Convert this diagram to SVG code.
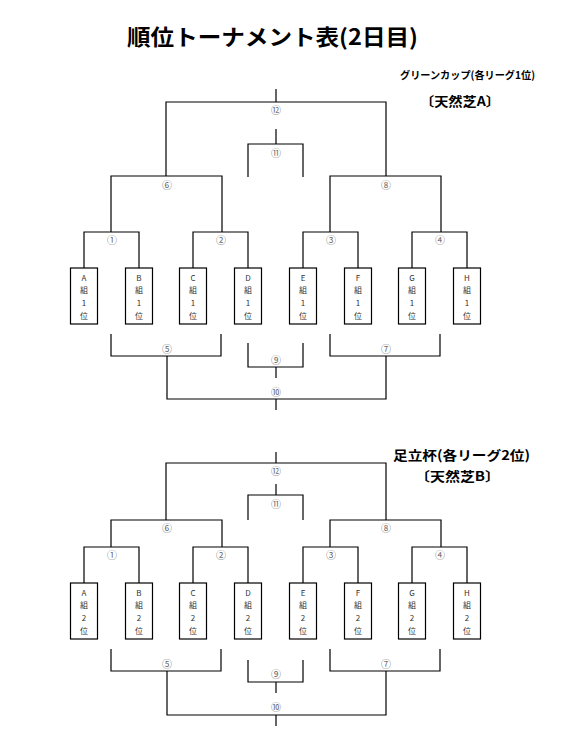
<svg xmlns="http://www.w3.org/2000/svg" width="567" height="749" viewBox="0 0 567 749">
<style>
.ln{fill:none;stroke:#000;stroke-width:1.2}
.box{fill:#fff;stroke:#000;stroke-width:1.2}
.num{font-family:"Noto Sans CJK JP","DejaVu Sans",sans-serif;font-size:10px;fill:#666;text-anchor:middle;dominant-baseline:central}
.bt{font-family:"Noto Sans CJK JP","Liberation Sans",sans-serif;font-size:8px;fill:#333;text-anchor:middle;dominant-baseline:central}
.ttl{font-family:"Noto Sans CJK JP",sans-serif;font-weight:bold;fill:#000}
</style>
<rect width="567" height="749" fill="#fff"/>
<g id="title"><text class="ttl" x="127" y="45" font-size="22" textLength="291" lengthAdjust="spacingAndGlyphs">順位トーナメント表(2日目)</text></g>
<g id="head-a">
<text class="ttl" x="400" y="79" font-size="10.5" textLength="135" lengthAdjust="spacingAndGlyphs">グリーンカップ(各リーグ1位)</text>
<text class="ttl" x="420" y="106" font-size="13" textLength="80" lengthAdjust="spacingAndGlyphs">〔天然芝A〕</text>
</g>
<g id="head-b">
<text class="ttl" x="393" y="460" font-size="13" textLength="137" lengthAdjust="spacingAndGlyphs">足立杯(各リーグ2位)</text>
<text class="ttl" x="415" y="481" font-size="13" textLength="85" lengthAdjust="spacingAndGlyphs">〔天然芝B〕</text>
</g>
<g id="connectors" class="ln">
<path d="M276 89V102M166 176V102H386V176M276 129V144M248 177V144H303V177M111 232V176H222V232M330 232V176H441V232M84 268V232H139V268M193 268V232H248V268M303 268V232H358V268M412 268V232H467V268M111 334V356H221V334M330 334V356H440V334M248 343V367H303V343M276 367V378M167 356V399H386V356M276 399V410"/>
<path d="M276 452V463M166 520V463H386V520M276 484V495M248 520V495H303V520M111 547V520H222V547M330 547V520H441V547M84 583V547H139V583M193 583V547H248V583M303 583V547H358V583M412 583V547H467V583M111 649V671H221V649M330 649V671H440V649M248 660V682H303V660M276 682V693M167 671V715H386V671M276 715V726"/>
</g>
<g id="labels-a">
<text class="num" x="276" y="109">⑫</text><text class="num" x="276" y="152">⑪</text>
<text class="num" x="167" y="184">⑥</text><text class="num" x="386" y="184">⑧</text>
<text class="num" x="112" y="239">①</text><text class="num" x="221" y="239">②</text><text class="num" x="331" y="239">③</text><text class="num" x="440" y="239">④</text>
<text class="num" x="167" y="348">⑤</text><text class="num" x="386" y="348">⑦</text>
<text class="num" x="276" y="359">⑨</text><text class="num" x="276" y="391">⑩</text>
</g>
<g id="labels-b">
<text class="num" x="276" y="470">⑫</text><text class="num" x="276" y="503">⑪</text>
<text class="num" x="167" y="527">⑥</text><text class="num" x="386" y="527">⑧</text>
<text class="num" x="112" y="554">①</text><text class="num" x="221" y="554">②</text><text class="num" x="331" y="554">③</text><text class="num" x="440" y="554">④</text>
<text class="num" x="167" y="663">⑤</text><text class="num" x="386" y="663">⑦</text>
<text class="num" x="276" y="673">⑨</text><text class="num" x="276" y="706">⑩</text>
</g>
<g id="A1"><rect class="box" x="70.5" y="268" width="27" height="56"/><text class="bt" x="84" y="277">A</text><text class="bt" x="84" y="289">組</text><text class="bt" x="84" y="302">1</text><text class="bt" x="84" y="315">位</text></g>
<g id="B1"><rect class="box" x="125.5" y="268" width="27" height="56"/><text class="bt" x="139" y="277">B</text><text class="bt" x="139" y="289">組</text><text class="bt" x="139" y="302">1</text><text class="bt" x="139" y="315">位</text></g>
<g id="C1"><rect class="box" x="179.5" y="268" width="27" height="56"/><text class="bt" x="193" y="277">C</text><text class="bt" x="193" y="289">組</text><text class="bt" x="193" y="302">1</text><text class="bt" x="193" y="315">位</text></g>
<g id="D1"><rect class="box" x="234.5" y="268" width="27" height="56"/><text class="bt" x="248" y="277">D</text><text class="bt" x="248" y="289">組</text><text class="bt" x="248" y="302">1</text><text class="bt" x="248" y="315">位</text></g>
<g id="E1"><rect class="box" x="289.5" y="268" width="27" height="56"/><text class="bt" x="303" y="277">E</text><text class="bt" x="303" y="289">組</text><text class="bt" x="303" y="302">1</text><text class="bt" x="303" y="315">位</text></g>
<g id="F1"><rect class="box" x="344.5" y="268" width="27" height="56"/><text class="bt" x="358" y="277">F</text><text class="bt" x="358" y="289">組</text><text class="bt" x="358" y="302">1</text><text class="bt" x="358" y="315">位</text></g>
<g id="G1"><rect class="box" x="398.5" y="268" width="27" height="56"/><text class="bt" x="412" y="277">G</text><text class="bt" x="412" y="289">組</text><text class="bt" x="412" y="302">1</text><text class="bt" x="412" y="315">位</text></g>
<g id="H1"><rect class="box" x="453.5" y="268" width="27" height="56"/><text class="bt" x="467" y="277">H</text><text class="bt" x="467" y="289">組</text><text class="bt" x="467" y="302">1</text><text class="bt" x="467" y="315">位</text></g>
<g id="A2"><rect class="box" x="70.5" y="583" width="27" height="56"/><text class="bt" x="84" y="592">A</text><text class="bt" x="84" y="604">組</text><text class="bt" x="84" y="617">2</text><text class="bt" x="84" y="630">位</text></g>
<g id="B2"><rect class="box" x="125.5" y="583" width="27" height="56"/><text class="bt" x="139" y="592">B</text><text class="bt" x="139" y="604">組</text><text class="bt" x="139" y="617">2</text><text class="bt" x="139" y="630">位</text></g>
<g id="C2"><rect class="box" x="179.5" y="583" width="27" height="56"/><text class="bt" x="193" y="592">C</text><text class="bt" x="193" y="604">組</text><text class="bt" x="193" y="617">2</text><text class="bt" x="193" y="630">位</text></g>
<g id="D2"><rect class="box" x="234.5" y="583" width="27" height="56"/><text class="bt" x="248" y="592">D</text><text class="bt" x="248" y="604">組</text><text class="bt" x="248" y="617">2</text><text class="bt" x="248" y="630">位</text></g>
<g id="E2"><rect class="box" x="289.5" y="583" width="27" height="56"/><text class="bt" x="303" y="592">E</text><text class="bt" x="303" y="604">組</text><text class="bt" x="303" y="617">2</text><text class="bt" x="303" y="630">位</text></g>
<g id="F2"><rect class="box" x="344.5" y="583" width="27" height="56"/><text class="bt" x="358" y="592">F</text><text class="bt" x="358" y="604">組</text><text class="bt" x="358" y="617">2</text><text class="bt" x="358" y="630">位</text></g>
<g id="G2"><rect class="box" x="398.5" y="583" width="27" height="56"/><text class="bt" x="412" y="592">G</text><text class="bt" x="412" y="604">組</text><text class="bt" x="412" y="617">2</text><text class="bt" x="412" y="630">位</text></g>
<g id="H2"><rect class="box" x="453.5" y="583" width="27" height="56"/><text class="bt" x="467" y="592">H</text><text class="bt" x="467" y="604">組</text><text class="bt" x="467" y="617">2</text><text class="bt" x="467" y="630">位</text></g>
</svg>
